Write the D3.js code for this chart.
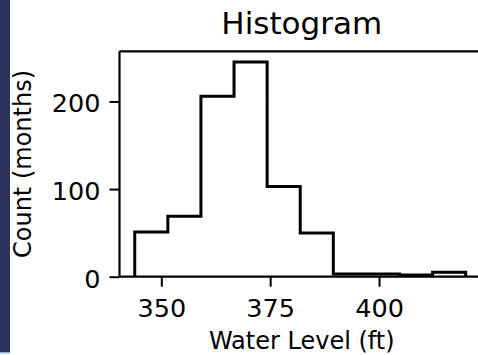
<!DOCTYPE html>
<html>
<head>
<meta charset="utf-8">
<script src="https://cdn.jsdelivr.net/npm/d3@7"></script>
<style>
  html, body { margin: 0; padding: 0; background: #ffffff; }
  svg { display: block; }
  text { font-family: "DejaVu Sans", sans-serif; fill: #000; }
</style>
</head>
<body>
<script>
// Monthly water level histogram
const binEdges = [343.9, 351.5, 359.1, 366.7, 374.3, 381.9, 389.5, 397.1, 404.7, 412.3, 419.9];
const binCounts = [51, 69, 206, 245, 103, 50, 3, 3, 2, 5];
const xTicks = [350, 375, 400];
const yTicks = [0, 100, 200];
const titleText = "Histogram";
const xLabel = "Water Level (ft)";
const yLabel = "Count (months)";

const W = 478, H = 355;
const plot = { left: 119.5, right: 484, top: 51.3, bottom: 276.7 };

const svg = d3.select("body").append("svg")
  .attr("width", W).attr("height", H);

svg.append("rect").attr("width", W).attr("height", H).attr("fill", "#ffffff");

// dark side band on the left
svg.append("rect").attr("x", 0).attr("y", 0).attr("width", 10).attr("height", 352)
  .attr("fill", "#2a315c");
svg.append("rect").attr("x", 0).attr("y", 352).attr("width", 10).attr("height", 1.5)
  .attr("fill", "#8fb2da");

const x = d3.scaleLinear().domain([340.4, 424.1]).range([plot.left, plot.right]);
const yMax = d3.max(binCounts) * 1.05;
const y = d3.scaleLinear().domain([0, yMax]).range([plot.bottom, plot.top]);

// step outline of the histogram
const pts = [[binEdges[0], 0]];
binCounts.forEach((c, i) => {
  pts.push([binEdges[i], c]);
  pts.push([binEdges[i + 1], c]);
});
pts.push([binEdges[binEdges.length - 1], 0]);

const line = d3.line().x(d => x(d[0])).y(d => y(d[1]));
svg.append("path")
  .attr("d", line(pts))
  .attr("fill", "none")
  .attr("stroke", "#000")
  .attr("stroke-width", 3)
  .attr("stroke-linejoin", "miter");

// spines
const spine = svg.append("g").attr("stroke", "#000").attr("stroke-width", 2.2).attr("fill", "none");
spine.append("line").attr("x1", plot.left).attr("x2", plot.left).attr("y1", plot.top).attr("y2", plot.bottom);
spine.append("line").attr("x1", plot.left).attr("x2", plot.right).attr("y1", plot.top).attr("y2", plot.top);
spine.append("line").attr("x1", plot.left).attr("x2", plot.right).attr("y1", plot.bottom).attr("y2", plot.bottom);
spine.append("line").attr("x1", plot.right).attr("x2", plot.right).attr("y1", plot.top).attr("y2", plot.bottom);

// x axis
const gx = svg.append("g").attr("transform", `translate(0,${plot.bottom})`)
  .call(d3.axisBottom(x).tickValues(xTicks).tickSize(10).tickSizeOuter(0).tickFormat(d3.format("d")));
gx.select(".domain").remove();
gx.selectAll(".tick line").attr("stroke", "#000").attr("stroke-width", 2);
gx.selectAll(".tick text")
  .attr("y", 40).attr("dy", null)
  .style("font-size", "25.5px").style("font-family", "'DejaVu Sans', sans-serif").attr("fill", "#000");

// y axis
const gy = svg.append("g").attr("transform", `translate(${plot.left},0)`)
  .call(d3.axisLeft(y).tickValues(yTicks).tickSize(10).tickSizeOuter(0).tickFormat(d3.format("d")));
gy.select(".domain").remove();
gy.selectAll(".tick line").attr("stroke", "#000").attr("stroke-width", 2);
gy.selectAll(".tick text")
  .attr("x", -19).attr("dy", 10.3)
  .style("font-size", "25.5px").style("font-family", "'DejaVu Sans', sans-serif").attr("fill", "#000");

// title and axis labels
const cx = (plot.left + plot.right) / 2;
svg.append("text").attr("x", cx).attr("y", 34.3)
  .attr("text-anchor", "middle").style("font-size", "31px").text(titleText);

svg.append("text").attr("x", cx).attr("y", 349)
  .attr("text-anchor", "middle").style("font-size", "24px").text(xLabel);

svg.append("text")
  .attr("transform", `translate(31,${(plot.top + plot.bottom) / 2}) rotate(-90)`)
  .attr("text-anchor", "middle").style("font-size", "24px").text(yLabel);
</script>
</body>
</html>
